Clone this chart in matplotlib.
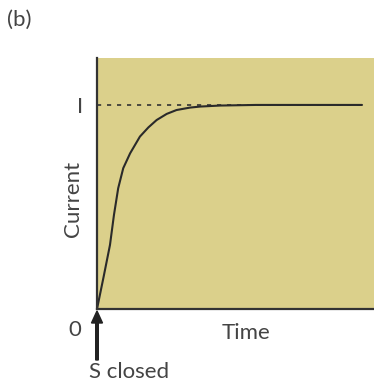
import matplotlib
matplotlib.use("Agg")
import matplotlib.pyplot as plt

# data (time in arbitrary units, current as fraction of I)
time = [0.0, 0.25, 0.49, 0.64, 0.80, 0.99, 1.25, 1.62, 1.94, 2.25, 2.63, 3.0, 3.51, 3.89, 4.64, 6.0, 8.0, 10.0]
current = [0.0, 0.158, 0.314, 0.461, 0.592, 0.690, 0.763, 0.845, 0.890, 0.926, 0.956, 0.975, 0.987, 0.992, 0.997, 1.0, 1.0, 1.0]
I_level = 1.0
t_max = 10.0

bg = "#dbd08b"
ink = "#2a2a2a"
txt = "#444444"
fam = ["Lato", "DejaVu Sans"]
fs = 16

fig = plt.figure(figsize=(3.74, 3.88), dpi=100)
ax = fig.add_axes([97/374, 1-309/388, 277/374, (309-58)/388])
ax.set_facecolor(bg)
ax.set_xlim(0, 277/26.5)
ax.set_ylim(0, 1.23)

ax.plot([0, t_max], [I_level, I_level], color="#333333", lw=1.2, linestyle=(0, (2.5, 3.5)))
ax.plot(time, current, color=ink, lw=1.5, solid_capstyle="round", solid_joinstyle="round")

for s in ["top", "right"]:
    ax.spines[s].set_visible(False)
for s in ["left", "bottom"]:
    ax.spines[s].set_color("#333333")
    ax.spines[s].set_linewidth(1.6)

ax.set_xticks([])
ax.set_yticks([I_level])
ax.set_yticklabels(["I"], fontsize=fs, color=txt, family=fam)
ax.tick_params(axis="y", length=0, pad=10)

fig.text(73/374, 1-199/388, "Current", fontsize=fs, color=txt, family=fam,
         rotation=90, ha="center", va="center")
fig.text(75/374, 1-330/388, "0", fontsize=fs, color=txt, family=fam, ha="center", va="center")
fig.text(246/374, 1-333/388, "Time", fontsize=fs, color=txt, family=fam, ha="center", va="center")
fig.text(129/374, 1-372/388, "S closed", fontsize=fs, color=txt, family=fam, ha="center", va="center")
fig.text(7/374, 1-20/388, "(b)", fontsize=fs, color=txt, family=fam, ha="left", va="center")

fig.patches.append(matplotlib.patches.FancyArrow(
    97/374, 1-360/388, 0, (360-311)/388, width=2.6/374, head_width=11/374,
    head_length=12/388, length_includes_head=True, color="#222222",
    transform=fig.transFigure, figure=fig))

fig.savefig("out.png", dpi=100)
